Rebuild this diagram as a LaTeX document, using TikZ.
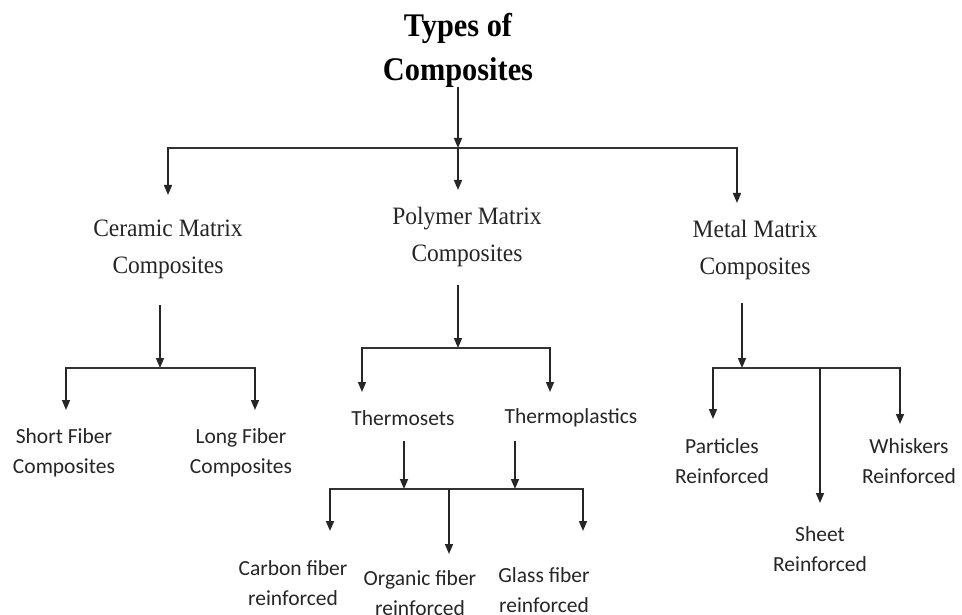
\documentclass[tikz,border=0pt]{standalone}
\usepackage{fontspec}
\setmainfont{Liberation Serif}
\newfontfamily\calib{Carlito}
\newfontfamily\ttlfont[FakeStretch=0.92]{Liberation Serif}
\newfontfamily\serc[FakeStretch=0.94]{Liberation Serif}
\usetikzlibrary{arrows.meta}
\begin{document}
\begin{tikzpicture}[x=1pt,y=-1pt,
  ln/.style={line width=1.6pt, draw=black!85},
  arr/.style={ln, -{Triangle[length=10pt,width=8pt]}},
  bar/.style={line width=2.2pt, draw=black!80, line cap=rect},
  ttl/.style={font=\ttlfont\fontsize{33}{44}\selectfont\bfseries, align=center, inner sep=0pt},
  ser/.style={font=\serc\fontsize{25}{37}\selectfont, align=center, inner sep=0pt, text=black!85},
  san/.style={font=\calib\fontsize{21.5}{30}\selectfont, align=center, inner sep=0pt, text=black!85}]
\useasboundingbox[fill=white] (0,0) rectangle (962,615);

% nodes
\node[ttl] (t) at (458,50) {Types of\\Composites};
\node[ser] (ce) at (168,249.5) {Ceramic Matrix\\Composites};
\node[ser] (po) at (467,236.5) {Polymer Matrix\\Composites};
\node[ser] (me) at (755,249.5) {Metal Matrix\\Composites};
\node[san] (sf) at (64,452.5) {Short Fiber\\Composites};
\node[san] (lf) at (241,452.5) {Long Fiber\\Composites};
\node[san] (ts) at (403,418) {Thermosets};
\node[san] (tp) at (571,418) {Thermoplastics};
\node[san] (cf) at (293,583.5) {Carbon fiber\\reinforced};
\node[san] (of) at (420,593.5) {Organic fiber\\reinforced};
\node[san] (gf) at (544,590) {Glass fiber\\reinforced};
\node[san] (pa) at (722,461.5) {Particles\\Reinforced};
\node[san] (wh) at (909,461.5) {Whiskers\\Reinforced};
\node[san] (sh) at (820,549.5) {Sheet\\Reinforced};

% coordinates
\coordinate (j0) at (458,148);
\coordinate (bl) at (168,148);
\coordinate (br) at (737,148);
\coordinate (ceT) at (168,195);
\coordinate (poT) at (458,190);
\coordinate (meT) at (737,203);

\coordinate (ceB) at (160,305);
\coordinate (cj) at (160,368);
\coordinate (cl) at (66,368);
\coordinate (cr) at (255,368);
\coordinate (sfT) at (66,410);
\coordinate (lfT) at (255,410);

\coordinate (poB) at (458,285);
\coordinate (pj) at (458,348);
\coordinate (pl) at (362,348);
\coordinate (pr) at (550,348);
\coordinate (tsT) at (362,392);
\coordinate (tpT) at (550,392);

\coordinate (tsB) at (404,441);
\coordinate (qa) at (404,489);
\coordinate (tpB) at (515,441);
\coordinate (qb) at (515,489);
\coordinate (ql) at (330,489);
\coordinate (qm) at (449,489);
\coordinate (qr) at (583,489);
\coordinate (cfT) at (330,531);
\coordinate (ofT) at (449,554);
\coordinate (gfT) at (583,531);

\coordinate (meB) at (742,303);
\coordinate (mj) at (742,368);
\coordinate (ml) at (713,368);
\coordinate (mm) at (820,368);
\coordinate (mr) at (900,368);
\coordinate (paT) at (713,419);
\coordinate (shT) at (820,503);
\coordinate (whT) at (900,424);

% top level
\draw[arr] (t.south) -- (j0);
\draw[bar] (bl) -- (br);
\draw[arr] (bl) -- (ceT);
\draw[arr] (j0) -- (poT);
\draw[arr] (br) -- (meT);

% ceramic
\draw[arr] (ceB) -- (cj);
\draw[bar] (cl) -- (cr);
\draw[arr] (cl) -- (sfT);
\draw[arr] (cr) -- (lfT);

% polymer
\draw[arr] (poB) -- (pj);
\draw[bar] (pl) -- (pr);
\draw[arr] (pl) -- (tsT);
\draw[arr] (pr) -- (tpT);
\draw[arr] (tsB) -- (qa);
\draw[arr] (tpB) -- (qb);
\draw[bar] (ql) -- (qr);
\draw[arr] (ql) -- (cfT);
\draw[arr] (qm) -- (ofT);
\draw[arr] (qr) -- (gfT);

% metal
\draw[arr] (meB) -- (mj);
\draw[bar] (ml) -- (mr);
\draw[arr] (ml) -- (paT);
\draw[arr] (mm) -- (shT);
\draw[arr] (mr) -- (whT);
\end{tikzpicture}
\end{document}
